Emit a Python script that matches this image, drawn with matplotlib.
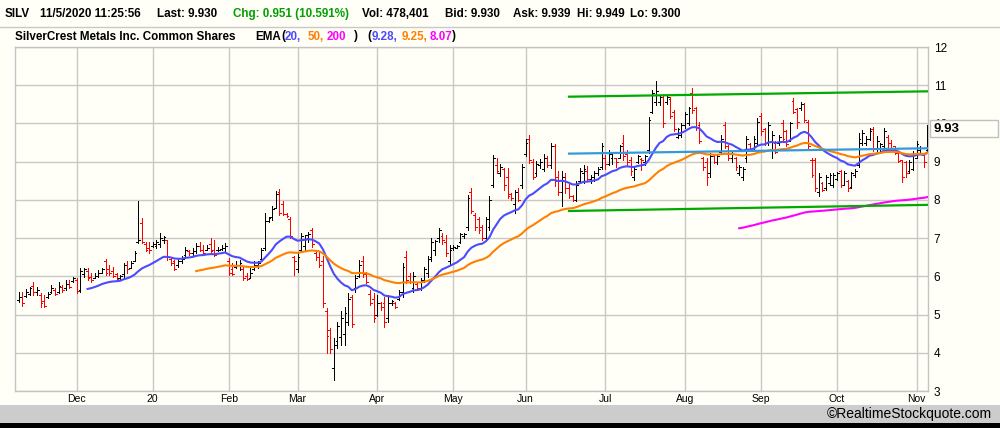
import numpy as np
import pandas as pd
import matplotlib
matplotlib.use('Agg')
import matplotlib.pyplot as plt
from matplotlib.patches import Rectangle
from matplotlib.lines import Line2D

# daily bars, SILV, 7 Nov 2019 .. 5 Nov 2020
first_day = '2019-11-07'
last_day = '2020-11-05'
holidays = ['2019-11-28', '2019-12-25', '2020-01-01', '2020-01-20', '2020-02-17',
            '2020-04-10', '2020-05-25', '2020-07-03', '2020-09-07']

opens = [5.38, 5.45, 5.48, 5.55, 5.75, 5.58, 5.50, 5.35, 5.45, 5.60,
         5.65, 5.60, 5.72, 5.70, 5.80, 5.88, 5.90, 5.65, 6.05, 6.15,
         5.98, 5.96, 6.02, 6.10, 6.40, 6.20, 6.15, 6.05, 5.95, 6.05,
         6.30, 6.22, 6.40, 6.90, 7.40, 6.85, 6.75, 6.80, 6.80, 6.85,
         6.95, 6.95, 6.45, 6.40, 6.30, 6.40, 6.55, 6.65, 6.60, 6.65,
         6.80, 6.70, 6.70, 6.85, 6.70, 6.68, 6.72, 6.75, 6.40, 6.20,
         6.25, 6.30, 6.20, 6.00, 5.95, 6.20, 6.30, 6.45, 6.75, 7.45,
         7.55, 7.80, 8.20, 7.90, 7.62, 7.50, 6.50, 6.20, 6.70, 6.80,
         7.00, 7.20, 6.60, 6.50, 6.40, 5.10, 4.60, 3.60, 4.30, 4.40,
         4.50, 4.80, 5.45, 5.70, 6.00, 6.40, 6.05, 5.55, 5.40, 5.00,
         5.30, 5.30, 4.90, 5.30, 5.30, 5.40, 5.60, 6.50, 6.00, 5.70,
         5.80, 5.70, 5.90, 6.10, 6.50, 6.70, 7.00, 7.05, 6.90, 6.40,
         6.75, 6.75, 6.90, 7.05, 7.30, 8.20, 7.60, 7.50, 7.30, 7.00,
         7.30, 8.40, 8.90, 8.70, 8.80, 8.60, 8.15, 7.90, 8.20, 8.40,
         9.20, 9.60, 9.00, 8.70, 8.90, 8.80, 9.10, 8.90, 9.40, 8.60,
         8.20, 8.50, 8.30, 8.10, 8.00, 8.50, 8.70, 8.75, 8.55, 8.60,
         8.70, 8.85, 9.10, 8.95, 9.10, 9.10, 9.10, 9.50, 9.20, 9.05,
         8.60, 8.98, 9.08, 9.00, 9.30, 10.30, 10.55, 10.55, 10.70, 10.55,
         10.65, 10.30, 9.65, 9.70, 9.95, 10.00, 10.80, 10.40, 9.95, 9.10,
         9.00, 8.70, 9.15, 9.00, 9.25, 9.95, 9.40, 9.10, 9.10, 8.70,
         8.60, 9.10, 9.45, 9.35, 9.50, 10.20, 9.85, 9.50, 9.30, 9.50,
         9.50, 10.00, 9.80, 9.55, 10.60, 10.38, 10.40, 10.50, 10.05, 9.05,
         9.05, 8.20, 8.45, 8.30, 8.45, 8.40, 8.55, 8.75, 8.40, 8.50,
         8.35, 8.65, 8.90, 9.50, 9.50, 9.60, 9.85, 9.35, 9.35, 9.40,
         9.65, 9.50, 9.40, 9.22, 9.05, 9.00, 8.75, 8.80, 9.10, 9.30,
         9.20, 9.30]
highs = [5.60, 5.60, 5.66, 5.73, 5.86, 5.73, 5.56, 5.50, 5.60, 5.77,
         5.69, 5.86, 5.77, 5.91, 5.91, 5.99, 5.95, 6.21, 6.21, 6.21,
         6.08, 6.08, 6.17, 6.23, 6.45, 6.30, 6.25, 6.08, 6.04, 6.34,
         6.39, 6.39, 6.65, 7.96, 7.52, 6.91, 6.91, 6.91, 6.95, 7.13,
         7.05, 6.95, 6.47, 6.43, 6.47, 6.52, 6.78, 6.69, 6.73, 6.87,
         6.91, 6.82, 6.82, 7.00, 6.95, 6.78, 6.82, 6.87, 6.47, 6.34,
         6.39, 6.43, 6.25, 6.08, 6.21, 6.39, 6.39, 6.73, 7.65, 7.56,
         7.83, 8.22, 8.28, 7.96, 7.65, 7.56, 6.52, 6.60, 7.13, 7.08,
         7.17, 7.26, 6.69, 6.65, 6.52, 5.16, 4.64, 4.38, 4.81, 5.08,
         5.20, 5.56, 5.51, 6.04, 6.43, 6.52, 6.12, 5.64, 5.56, 5.51,
         5.34, 5.47, 5.51, 5.38, 5.34, 5.64, 6.34, 6.65, 6.08, 6.12,
         5.86, 5.95, 6.25, 6.52, 7.00, 6.95, 7.27, 7.13, 7.08, 6.82,
         6.82, 6.82, 7.13, 7.13, 8.13, 8.30, 7.65, 7.56, 7.35, 7.56,
         8.09, 9.18, 9.09, 8.93, 8.84, 8.84, 8.18, 8.27, 8.32, 8.93,
         9.59, 9.69, 9.06, 9.02, 9.06, 9.19, 9.15, 9.50, 9.46, 8.75,
         8.75, 8.70, 8.45, 8.14, 8.49, 8.84, 8.90, 8.88, 8.65, 8.75,
         8.85, 9.50, 9.18, 9.30, 9.25, 9.10, 9.44, 9.70, 9.31, 9.13,
         8.87, 9.18, 9.09, 9.18, 10.18, 10.88, 11.10, 10.75, 10.75, 10.75,
         10.70, 10.36, 9.88, 10.00, 10.31, 10.44, 10.92, 10.44, 10.05, 9.13,
         9.09, 9.22, 9.18, 9.20, 9.70, 10.05, 9.44, 9.25, 9.13, 8.92,
         8.87, 9.66, 9.48, 9.66, 10.14, 10.27, 9.88, 10.05, 9.79, 9.53,
         9.70, 10.09, 9.83, 10.05, 10.66, 10.40, 10.57, 10.53, 10.09, 9.09,
         9.09, 8.70, 8.48, 8.65, 8.70, 8.70, 8.74, 8.79, 8.75, 8.52,
         8.74, 8.80, 9.75, 9.83, 9.66, 9.88, 9.92, 9.66, 9.50, 9.88,
         9.70, 9.57, 9.42, 9.25, 9.05, 9.02, 9.05, 9.27, 9.53, 9.40,
         9.22, 9.95]
lows = [5.34, 5.22, 5.45, 5.50, 5.50, 5.52, 5.20, 5.20, 5.43, 5.56,
        5.51, 5.56, 5.60, 5.64, 5.69, 5.86, 5.56, 5.60, 5.99, 5.91,
        5.86, 5.95, 5.99, 6.08, 6.04, 6.04, 5.99, 5.91, 5.91, 5.99,
        6.08, 6.21, 6.39, 6.87, 6.87, 6.65, 6.62, 6.78, 6.73, 6.78,
        6.87, 6.43, 6.30, 6.17, 6.25, 6.34, 6.52, 6.56, 6.52, 6.60,
        6.65, 6.56, 6.69, 6.60, 6.52, 6.65, 6.69, 6.65, 6.04, 6.04,
        6.21, 6.17, 5.91, 5.91, 5.95, 6.17, 6.21, 6.43, 6.69, 7.43,
        7.48, 7.78, 7.60, 7.60, 7.56, 7.00, 6.04, 6.12, 6.65, 6.70,
        6.91, 6.78, 6.43, 6.25, 5.20, 4.00, 4.00, 3.29, 4.12, 4.20,
        4.20, 4.73, 4.68, 5.60, 5.99, 5.99, 5.82, 5.25, 4.81, 4.95,
        5.12, 4.68, 4.81, 5.25, 5.16, 5.38, 5.47, 5.82, 5.82, 5.60,
        5.64, 5.64, 5.86, 5.99, 6.39, 6.56, 6.90, 6.85, 6.52, 6.30,
        6.69, 6.73, 6.87, 7.00, 7.21, 7.65, 7.21, 7.13, 6.95, 6.95,
        7.21, 8.35, 8.70, 8.62, 8.27, 8.05, 8.00, 7.66, 7.96, 8.32,
        9.15, 8.97, 8.54, 8.62, 8.84, 8.75, 8.85, 8.84, 8.36, 8.14,
        7.83, 8.17, 8.05, 7.96, 7.98, 8.45, 8.45, 8.50, 8.45, 8.50,
        8.65, 8.80, 8.80, 8.90, 8.95, 8.87, 9.09, 9.05, 8.92, 8.65,
        8.52, 8.96, 8.79, 8.92, 9.22, 10.27, 10.49, 10.49, 9.92, 10.50,
        10.14, 9.79, 9.61, 9.65, 9.88, 9.96, 10.27, 9.83, 9.50, 8.79,
        8.39, 8.61, 8.96, 8.95, 9.22, 9.35, 9.05, 9.00, 8.79, 8.65,
        8.52, 9.00, 9.27, 9.30, 9.40, 9.70, 9.44, 9.44, 9.09, 9.22,
        9.44, 9.53, 9.40, 9.53, 10.27, 9.88, 10.36, 10.05, 9.35, 8.61,
        8.22, 8.09, 8.22, 8.26, 8.39, 8.35, 8.52, 8.35, 8.38, 8.22,
        8.30, 8.60, 8.85, 9.44, 9.44, 9.57, 9.27, 9.27, 9.27, 9.27,
        9.30, 9.30, 9.20, 9.00, 8.48, 8.60, 8.70, 8.79, 9.09, 9.25,
        8.87, 9.27]
closes = [5.45, 5.30, 5.60, 5.70, 5.60, 5.65, 5.30, 5.22, 5.55, 5.70,
          5.55, 5.75, 5.65, 5.80, 5.72, 5.95, 5.62, 6.15, 6.18, 5.95,
          5.90, 6.00, 6.10, 6.20, 6.10, 6.08, 6.00, 5.93, 6.00, 6.30,
          6.20, 6.35, 6.60, 6.95, 6.90, 6.70, 6.68, 6.85, 6.90, 7.00,
          7.02, 6.50, 6.35, 6.20, 6.40, 6.45, 6.70, 6.60, 6.65, 6.80,
          6.70, 6.60, 6.75, 6.65, 6.55, 6.70, 6.75, 6.80, 6.10, 6.06,
          6.30, 6.35, 5.95, 5.92, 6.10, 6.30, 6.35, 6.70, 7.45, 7.52,
          7.75, 8.15, 7.65, 7.62, 7.58, 7.05, 6.40, 6.50, 7.05, 7.07,
          7.12, 6.85, 6.50, 6.30, 5.30, 4.45, 4.10, 4.20, 4.70, 4.90,
          5.05, 5.40, 4.75, 5.95, 6.30, 6.05, 5.85, 5.30, 4.90, 5.30,
          5.20, 4.80, 5.30, 5.35, 5.20, 5.60, 6.25, 5.90, 5.85, 6.00,
          5.70, 5.90, 6.20, 6.45, 6.90, 6.92, 7.20, 6.95, 6.60, 6.70,
          6.78, 6.80, 7.10, 7.12, 8.05, 7.70, 7.30, 7.20, 7.00, 7.50,
          8.00, 9.10, 8.75, 8.85, 8.40, 8.10, 8.05, 8.20, 8.00, 8.85,
          9.50, 9.05, 8.60, 8.95, 9.00, 9.10, 8.90, 9.40, 8.50, 8.20,
          8.60, 8.30, 8.10, 8.00, 8.40, 8.75, 8.80, 8.55, 8.60, 8.70,
          8.80, 9.40, 8.95, 9.20, 9.22, 9.00, 9.40, 9.15, 9.00, 8.75,
          8.80, 9.15, 9.05, 9.15, 10.10, 10.80, 10.85, 10.70, 10.00, 10.70,
          10.20, 9.85, 9.85, 9.95, 10.25, 10.40, 10.35, 9.90, 9.55, 8.85,
          8.60, 9.15, 9.00, 9.15, 9.60, 9.40, 9.10, 9.20, 8.85, 8.85,
          8.80, 9.60, 9.30, 9.60, 10.05, 9.80, 9.50, 9.95, 9.70, 9.25,
          9.65, 9.60, 9.45, 10.00, 10.30, 10.05, 10.50, 10.10, 9.40, 8.65,
          8.30, 8.60, 8.25, 8.60, 8.65, 8.65, 8.70, 8.40, 8.70, 8.30,
          8.70, 8.75, 9.60, 9.75, 9.60, 9.80, 9.35, 9.55, 9.45, 9.80,
          9.35, 9.35, 9.22, 9.02, 8.60, 8.70, 9.00, 9.20, 9.45, 9.35,
          8.98, 9.93]

month_labels = ['Dec', '20', 'Feb', 'Mar', 'Apr', 'May', 'Jun', 'Jul',
                'Aug', 'Sep', 'Oct', 'Nov']
ema_periods = [20, 50, 200]
ema_colors = ['#4B4BFF', '#FF8000', '#FF00FF']

# hand drawn trend lines (bar index, price)
trend_x = [152, 251]
upper_trend = [10.70, 10.84]
lower_trend = [7.71, 7.87]
middle_trend = [9.21, 9.35]

header = [(5, 'SILV', 'black'), (40, '11/5/2020 11:25:56', 'black'),
          (157, 'Last: 9.930', 'black'), (233, 'Chg: 0.951 (10.591%)', '#00A000'),
          (362, 'Vol: 478,401', 'black'), (445, 'Bid: 9.930', 'black'),
          (513, 'Ask: 9.939', 'black'), (577, 'Hi: 9.949', 'black'),
          (630, 'Lo: 9.300', 'black')]
title = [(15, 'SilverCrest Metals Inc. Common Shares', 'black'),
         (255, 'EMA', 'black'), (281, '(', 'black'), (285, '20,', '#4B4BFF'),
         (308, '50,', '#FF8000'), (327, '200', '#FF00FF'), (354, ')', 'black'),
         (367, '(', 'black'), (372, '9.28,', '#4B4BFF'), (402, '9.25,', '#FF8000'),
         (430, '8.07', '#FF00FF'), (452, ')', 'black')]


def ema(values, n):
    """EMA seeded with the simple mean of the first n values."""
    out = np.full(len(values), np.nan)
    out[n - 1] = np.mean(values[:n])
    a = 2.0 / (n + 1)
    for i in range(n, len(values)):
        out[i] = a * values[i] + (1 - a) * out[i - 1]
    return out


dates = pd.bdate_range(first_day, last_day)
dates = dates[~dates.isin(pd.to_datetime(holidays))]
idx = np.arange(len(closes))
o, h, l, c = (np.array(v) for v in (opens, highs, lows, closes))
bar_colors = np.where(c < o, '#FF0000', '#000000')

month_pos = [i for i in range(1, len(dates)) if dates[i].month != dates[i - 1].month]

BG = '#FFFFF7'
W, H = 1000, 428
NARROW = ['Liberation Sans Narrow', 'Liberation Sans', 'DejaVu Sans']
fig = plt.figure(figsize=(W / 100, H / 100), dpi=100)
fig.patch.set_facecolor(BG)
plt.rcParams['font.family'] = ['Liberation Sans', 'DejaVu Sans']

# plot area in pixels: x 15..928, y 47..391
ax = fig.add_axes([15 / W, 1 - 391 / H, 913 / W, 344 / H])
ax.set_facecolor(BG)
ax.set_xlim(-1.05, 251.16)
ax.set_ylim(3, 12)

for s in ax.spines.values():
    s.set_color('#C4C4C4')
    s.set_linewidth(1)

ax.set_yticks(range(3, 13))
ax.yaxis.tick_right()
ax.tick_params(axis='y', length=0, pad=4, labelsize=8.5)
ax.set_xticks(month_pos)
ax.set_xticklabels(month_labels, family=NARROW)
ax.tick_params(axis='x', length=0, pad=2.5, labelsize=7.5)
ax.grid(True, color='#C8C8C8', linewidth=1)
ax.set_axisbelow(True)

px = 0.72
ax.vlines(idx, l, h, colors=bar_colors, linewidth=px, antialiased=False, zorder=3)
ax.hlines(o, idx - 0.5, idx, colors=bar_colors, linewidth=px, antialiased=False, zorder=3)
ax.hlines(c, idx, idx + 0.5, colors=bar_colors, linewidth=px, antialiased=False, zorder=3)

for n, col in zip(ema_periods, ema_colors):
    ax.plot(idx, ema(c, n), color=col, linewidth=1.5, zorder=4)

ax.plot(trend_x, upper_trend, color='#00AA00', linewidth=1.6, zorder=5)
ax.plot(trend_x, lower_trend, color='#00AA00', linewidth=1.6, zorder=5)
ax.plot(trend_x, middle_trend, color='#3399DD', linewidth=1.6, zorder=5)

# header rows
for x, txt, col in header:
    fig.text(x / W, 1 - 14 / H, txt, color=col, fontsize=8.4, fontweight='bold', va='center')
for x, txt, col in title:
    fig.text(x / W, 1 - 36.5 / H, txt, color=col, fontsize=8.4, fontweight='bold', va='center')
fig.add_artist(Line2D([0, 1], [1 - 27 / H, 1 - 27 / H], color='#C8C8C8', linewidth=1))

# last price box
fig.patches.append(Rectangle((930 / W, 1 - 137 / H), 68 / W, 17 / H, transform=fig.transFigure,
                             facecolor=BG, edgecolor='#C0C0C0', linewidth=1, zorder=10))
fig.text(934 / W, 1 - 128.5 / H, '{:.2f}'.format(closes[-1]), fontsize=9.5,
         fontweight='bold', va='center', zorder=11)

# footer
fig.patches.append(Rectangle((0, 1 - 423 / H), 1, 18 / H, transform=fig.transFigure,
                             facecolor='#CCCCCC', edgecolor='none', zorder=0))
fig.patches.append(Rectangle((0, 0), 1, 5 / H, transform=fig.transFigure,
                             facecolor='#000000', edgecolor='none', zorder=0))
fig.text(992 / W, 1 - 414 / H, '\u00a9RealtimeStockquote.com', fontsize=10,
         family=NARROW, ha='right', va='center')

fig.savefig('out.png', dpi=100, facecolor=BG)
